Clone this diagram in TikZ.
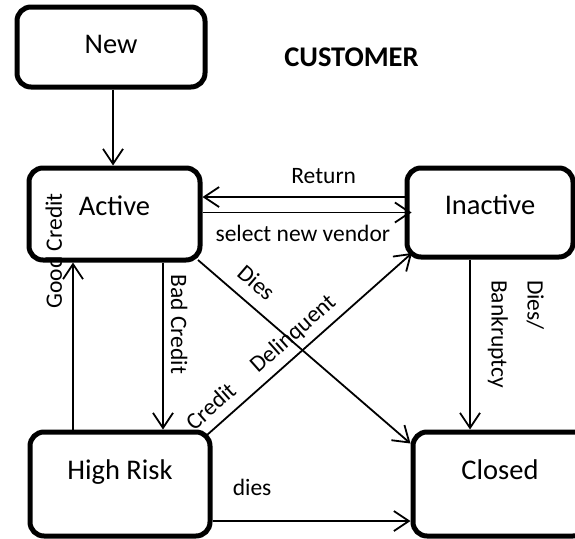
\documentclass[tikz,border=0pt]{standalone}
\usepackage{fontspec}
\setmainfont{Carlito}
\usetikzlibrary{arrows.meta,calc}
\begin{document}
\begin{tikzpicture}[x=1pt,y=-1pt,
  stbox/.style={draw, line width=5pt, rounded corners=14pt, inner sep=0pt,
    font=\fontsize{28.5}{34}\selectfont},
  arr/.style={line width=1.8pt, -{Straight Barb[length=15pt,width=20pt]}},
  lbl/.style={font=\fontsize{23.5}{28}\selectfont, inner sep=2pt},
]
\useasboundingbox (0,0) rectangle (575,538);

% states
\node[stbox, minimum width=188pt, text height=46pt, text depth=34pt] (new) at (111,47) {New};
\node[stbox, minimum width=171pt, text height=47pt, text depth=45pt] (active) at (114.5,214) {Active};
\node[stbox, minimum width=166pt, text height=46pt, text depth=43pt] (inactive) at (490,212.5) {Inactive};
\node[stbox, minimum width=180pt, text height=47pt, text depth=57pt] (highrisk) at (120,484) {High Risk};
\node[stbox, minimum width=174pt, text height=47pt, text depth=57pt] (closed) at (500,484) {Closed};

\node[font=\bfseries\fontsize{28.5}{34}\selectfont] (title) at (351.5,57) {CUSTOMER};

% New -> Active
\coordinate (na) at ([xshift=2pt]new.south);
\draw[arr] (na) -- (na |- active.north);

% Active <-> Inactive
\coordinate (ret) at ([yshift=15.5pt]inactive.west);
\draw[arr] (ret) -- (ret -| active.east)
  node[lbl, pos=0.40, above=10pt] {Return};
\coordinate (sel) at ([xshift=7pt]inactive.west);
\draw[arr] (sel -| active.east) -- (sel)
  node[lbl, pos=0.48, below=10pt] {select new vendor};

% Active -> High Risk and back
\coordinate (bc) at ([xshift=48.5pt]active.south);
\draw[arr] (bc) -- (bc |- highrisk.north)
  node[lbl, pos=0.37, rotate=-90, anchor=south, inner ysep=7pt] {Bad Credit};
\coordinate (gc) at ([xshift=-47pt]highrisk.north);
\draw[arr] (gc) -- (gc |- active.south)
  node[lbl, pos=1.07, rotate=90, anchor=south, inner ysep=10pt] {Good Credit};

% diagonals
\draw[arr] ([xshift=-4.5pt,yshift=2.5pt]active.south east) -- ([yshift=-14pt]closed.north west)
  node[lbl, sloped, pos=0.21, above=10pt] {Dies};
\draw[arr] ([xshift=-5.5pt,yshift=-5.5pt]highrisk.north east) -- ([xshift=7.5pt,yshift=6.5pt]inactive.south west)
  node[lbl, sloped, pos=0.08, above=8pt] {Credit}
  node[lbl, sloped, pos=0.48, above=5pt] {Delinquent};

% Inactive -> Closed
\coordinate (ic) at ([xshift=-20pt]inactive.south);
\draw[arr] (ic) -- (ic |- closed.north)
  node[lbl, pos=0.116, rotate=-90, anchor=south west, align=left,
       font=\fontsize{23.5}{36}\selectfont, inner xsep=0pt, inner ysep=17pt] {Dies/\\Bankruptcy};

% High Risk -> Closed
\coordinate (hd) at ([yshift=-37pt]highrisk.east);
\draw[arr] (hd) -- (hd -| closed.west)
  node[lbl, pos=0.2, above=22pt] {dies};
\end{tikzpicture}
\end{document}
